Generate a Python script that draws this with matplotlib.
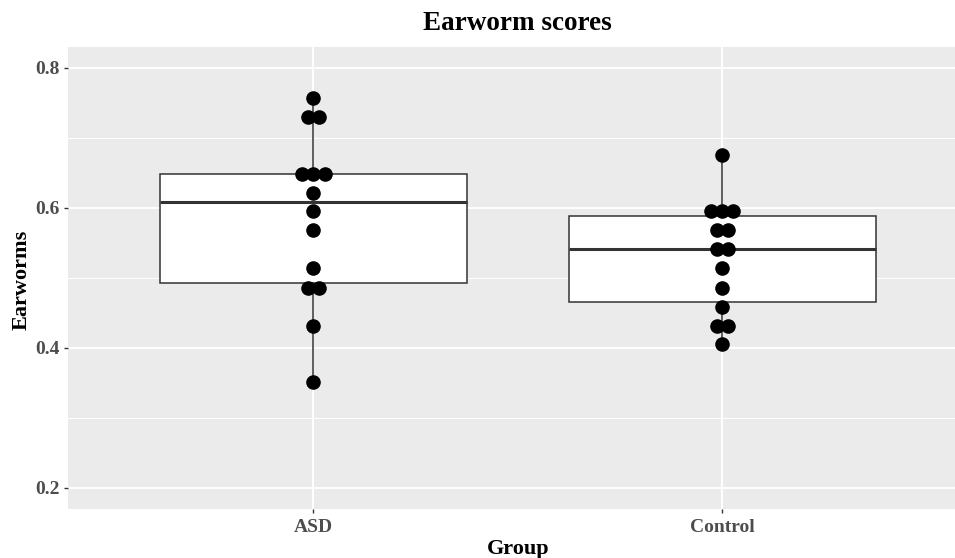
import matplotlib
matplotlib.use("Agg")
import matplotlib.pyplot as plt
import numpy as np
from collections import Counter

groups = ["ASD", "Control"]
asd = [0.757, 0.730, 0.730, 0.649, 0.649, 0.649, 0.622, 0.595, 0.568,
       0.514, 0.486, 0.486, 0.432, 0.351]
control = [0.676, 0.595, 0.595, 0.595, 0.568, 0.568, 0.541, 0.541, 0.514,
           0.486, 0.459, 0.432, 0.432, 0.405]
yticks = [0.2, 0.4, 0.6, 0.8]
title = "Earworm scores"
xlabel = "Group"
ylabel = "Earworms"

W, H = 955, 558
fig = plt.figure(figsize=(W / 100, H / 100), dpi=100)
left, right, top, bottom = 68, 967.5, 47, 509
ax = fig.add_axes([left / W, 1 - bottom / H, (right - left) / W, (bottom - top) / H])
ax.set_facecolor("#EBEBEB")
for s in ax.spines.values():
    s.set_visible(False)

data = [asd, control]
bp = ax.boxplot(data, positions=[1, 2], widths=0.75, whis=1.5, patch_artist=True,
                showcaps=False, showfliers=False, zorder=2,
                boxprops=dict(facecolor="white", edgecolor="#333333", linewidth=1.1),
                whiskerprops=dict(color="#333333", linewidth=1.1),
                medianprops=dict(color="#333333", linewidth=2.2))

px_per_unit = (right - left) / 2.2
spacing = 11.3 / px_per_unit
for i, vals in enumerate(data):
    counts = Counter(vals)
    xs, ys = [], []
    for v, k in counts.items():
        for j in range(k):
            xs.append(i + 1 + (j - (k - 1) / 2) * spacing)
            ys.append(v)
    ax.plot(xs, ys, "o", color="black", markersize=10.5, zorder=3, markeredgewidth=0)

ax.set_xlim(0.4, 2.6)
ax.set_ylim(0.17, 0.83)
ax.set_yticks(yticks)
ax.set_yticks([0.3, 0.5, 0.7], minor=True)
ax.set_xticks([1, 2])
ax.set_xticklabels(groups)
ax.set_yticklabels([f"{v:.1f}" for v in yticks])
ax.grid(which="major", color="white", linewidth=1.4)
ax.grid(which="minor", axis="y", color="white", linewidth=0.7)
ax.set_axisbelow(True)
ax.tick_params(which="major", length=3, width=1, color="#333333", labelcolor="#4D4D4D",
               labelsize=14, pad=3)
ax.tick_params(axis="x", which="major", pad=4.5)
ax.tick_params(which="minor", length=0)
for lab in ax.get_xticklabels() + ax.get_yticklabels():
    lab.set_fontfamily("Liberation Serif")
    lab.set_fontweight("bold")

cx = ((left + right) / 2) / W
fig.text(cx, 1 - 24 / H, title, ha="center", va="center", fontsize=19.5,
         fontfamily="Liberation Serif", fontweight="bold")
fig.text(cx, 1 - 549 / H, xlabel, ha="center", va="center", fontsize=16,
         fontfamily="Liberation Serif", fontweight="bold")
fig.text(22 / W, 1 - 280 / H, ylabel, ha="center", va="center", rotation=90, fontsize=16,
         fontfamily="Liberation Serif", fontweight="bold")

fig.savefig("out.png", dpi=100)
